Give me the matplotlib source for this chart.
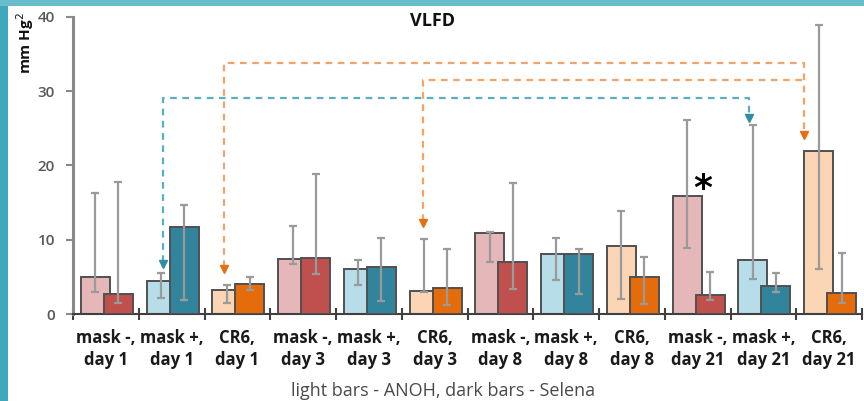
import matplotlib
matplotlib.use("Agg")
import matplotlib.pyplot as plt
from matplotlib.patches import Rectangle
import numpy as np

categories = ["mask -,\nday 1", "mask +,\nday 1", "CR6,\nday 1",
              "mask -,\nday 3", "mask +,\nday 3", "CR6,\nday 3",
              "mask -,\nday 8", "mask +,\nday 8", "CR6,\nday 8",
              "mask -,\nday 21", "mask +,\nday 21", "CR6,\nday 21"]

anoh = [5.0, 4.5, 3.2, 7.35, 6.05, 3.1, 10.9, 8.1, 9.1, 15.9, 7.3, 22.0]
anoh_low = [3.0, 2.2, 1.45, 6.7, 3.9, 2.9, 6.95, 4.6, 2.0, 8.85, 4.7, 6.05]
anoh_high = [16.3, 5.55, 3.9, 11.85, 7.25, 10.1, 11.05, 10.25, 13.9, 26.1, 25.5, 38.9]

selena = [2.65, 11.7, 4.1, 7.6, 6.3, 3.45, 6.95, 8.1, 4.95, 2.5, 3.8, 2.8]
selena_low = [1.5, 1.9, 3.2, 5.4, 1.7, 1.2, 3.35, 2.65, 1.3, 1.9, 2.9, 1.5]
selena_high = [17.8, 14.7, 5.0, 18.85, 10.3, 8.7, 17.6, 8.75, 7.7, 5.65, 5.5, 8.2]

light_colors = ["#e6b7b9", "#b7dde8", "#fcd5b4"]
dark_colors = ["#c0504d", "#31849b", "#e46c0a"]

yticks = [0, 10, 20, 30, 40]

FONT = "Open Sans"
fig = plt.figure(figsize=(8.64, 4.01), dpi=100)
fig.patch.set_facecolor("white")

# frame strips
fig.add_artist(Rectangle((0, 0), 7.5 / 864, 1, transform=fig.transFigure,
                         facecolor="#3ea8bc", edgecolor="none", zorder=0))
fig.add_artist(Rectangle((0, 1 - 5.5 / 401), 1, 5.5 / 401, transform=fig.transFigure,
                         facecolor="#68bccb", edgecolor="none", zorder=0))

ax = fig.add_axes([73 / 864, 1 - 314 / 401, 789 / 864, 297 / 401])
n = len(categories)
x = np.arange(n)
w = 0.44
xl = x + 0.34
xd = x + 0.69
lc = [light_colors[i % 3] for i in range(n)]
dc = [dark_colors[i % 3] for i in range(n)]

ax.bar(xl, anoh, width=w, color=lc, edgecolor="#505050", linewidth=1.4, zorder=2)
ax.bar(xd, selena, width=w, color=dc, edgecolor="#505050", linewidth=1.4, zorder=3)

a = np.array(anoh); s = np.array(selena)
ax.errorbar(xl, a, yerr=[a - np.array(anoh_low), np.array(anoh_high) - a], fmt="none",
            ecolor="#9a9a9a", elinewidth=1.6, capsize=3, capthick=1.6, zorder=4)
ax.errorbar(xd, s, yerr=[s - np.array(selena_low), np.array(selena_high) - s], fmt="none",
            ecolor="#9a9a9a", elinewidth=1.6, capsize=3, capthick=1.6, zorder=4)

ax.set_xlim(0, n)
ax.set_ylim(0, 40)
ax.set_yticks(yticks)
ax.set_yticklabels([str(t) for t in yticks], fontfamily=FONT, fontsize=11,
                   color="#595959", fontweight="semibold")
ax.set_xticks(np.arange(n + 1))
ax.set_xticklabels([])
ax.set_xticks(x + 0.5, minor=True)
ax.set_xticklabels(categories, minor=True, fontfamily=FONT, fontsize=12,
                   fontweight="bold", color="#1a1a1a", linespacing=1.25)
ax.tick_params(axis="x", which="minor", length=0, pad=11)
ax.tick_params(axis="x", which="major", direction="inout", length=9, width=1.5, color="#404040")
ax.tick_params(axis="y", direction="out", length=5, width=1.5, color="#8a8a8a", pad=8)
for sp in ["top", "right"]:
    ax.spines[sp].set_visible(False)
ax.spines["left"].set_color("#8a8a8a")
ax.spines["left"].set_linewidth(2.2)
ax.spines["bottom"].set_color("#404040")
ax.spines["bottom"].set_linewidth(1.5)
ax.patch.set_alpha(0)

# connector arrows
teal = "#5aaec0"
orange = "#f2a468"
teal_head = "#2f8ea3"
orange_head = "#e4700f"
def line(xs, ys, color):
    ax.plot(xs, ys, color=color, lw=1.6, ls=(0, (3, 2.5)), zorder=1, clip_on=False)
def head(xp, yp, color):
    ax.plot([xp], [yp], marker="v", color=color, markersize=5.5, zorder=1, clip_on=False)

line([1.37, 1.37, 10.28, 10.28], [7.0, 29.1, 29.1, 26.6], teal)
head(1.37, 6.7, teal_head)
head(10.28, 26.4, teal_head)
line([2.30, 2.30, 11.12, 11.12], [6.3, 33.85, 33.85, 24.4], orange)
head(2.30, 6.0, orange_head)
head(11.12, 24.1, orange_head)
line([5.32, 5.32, 11.12], [12.5, 31.5, 31.5], orange)
head(5.32, 12.2, orange_head)

ax.text(9.58, 16.9, "*", fontsize=26, fontweight="bold", color="black",
        ha="center", va="center", fontfamily="DejaVu Sans")

fig.text(433 / 864, 1 - 21 / 401, "VLFD", ha="center", va="center",
         fontfamily=FONT, fontweight="bold", fontsize=13, color="#111111")
fig.text(25 / 864, 1 - 43 / 401, "mm Hg$^2$", rotation=90, ha="center", va="center",
         fontfamily=FONT, fontweight="bold", fontsize=11, color="#111111")
fig.text(443 / 864, 1 - 391 / 401, "light bars - ANOH, dark bars - Selena", ha="center",
         va="center", fontfamily=FONT, fontsize=13, color="#4a4a4a")

fig.savefig("out.png", dpi=100, facecolor="white")
